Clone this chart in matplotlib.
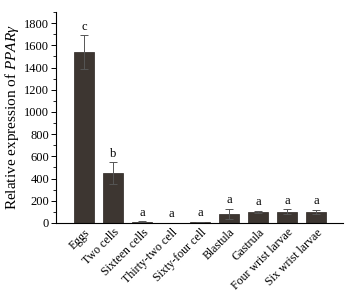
import matplotlib
matplotlib.use('Agg')
import matplotlib.pyplot as plt
from matplotlib.ticker import MultipleLocator
import numpy as np

# developmental stages and relative expression of PPARgamma
stages = ['Eggs', 'Two cells', 'Sixteen cells', 'Thirty-two cell', 'Sixty-four cell',
          'Blastula', 'Gastrula', 'Four wrist larvae', 'Six wrist larvae']
expression = [1540, 450, 10, 2, 8, 85, 100, 100, 98]
errors = [150, 95, 4, 1, 3, 45, 10, 22, 20]
letters = ['c', 'b', 'a', 'a', 'a', 'a', 'a', 'a', 'a']

plt.rcParams['font.family'] = ['Liberation Serif', 'DejaVu Serif']
plt.rcParams['mathtext.fontset'] = 'custom'
plt.rcParams['mathtext.it'] = 'Liberation Serif:italic'
plt.rcParams['mathtext.rm'] = 'Liberation Serif'

fig = plt.figure(figsize=(3.51, 2.93), dpi=100)
ax = fig.add_axes([0.16, 0.239, 0.817, 0.72])

x = np.arange(len(stages))
ax.bar(x, expression, width=0.69, color='#3d3631', edgecolor='#2a2420', linewidth=0.5,
       yerr=errors, error_kw=dict(ecolor='#555555', elinewidth=0.7, capsize=3, capthick=0.7))

for xi, v, e, t in zip(x, expression, errors, letters):
    ax.text(xi, v + e + 25, t, ha='center', va='bottom', fontsize=9)

ax.set_xlim(-0.97, 8.93)
ax.set_ylim(0, 1900)
ax.yaxis.set_major_locator(MultipleLocator(200))
ax.yaxis.set_minor_locator(MultipleLocator(100))
ax.set_yticks(np.arange(0, 1801, 200))
ax.tick_params(axis='y', which='major', direction='out', length=3.5, width=0.7, labelsize=9, pad=1.5)
ax.tick_params(axis='y', which='minor', direction='out', length=2, width=0.6)
ax.set_xticks(x)
ax.set_xticklabels(stages, rotation=45, ha='right', rotation_mode='anchor', fontsize=8.6)
ax.tick_params(axis='x', length=0, pad=2.5)

ax.spines['top'].set_visible(False)
ax.spines['right'].set_visible(False)
ax.spines['left'].set_linewidth(0.8)
ax.spines['bottom'].set_linewidth(0.8)

ax.set_ylabel(r'Relative expression of $\mathit{PPAR}\gamma$', fontsize=11, labelpad=2)

fig.savefig('out.png', dpi=100)
